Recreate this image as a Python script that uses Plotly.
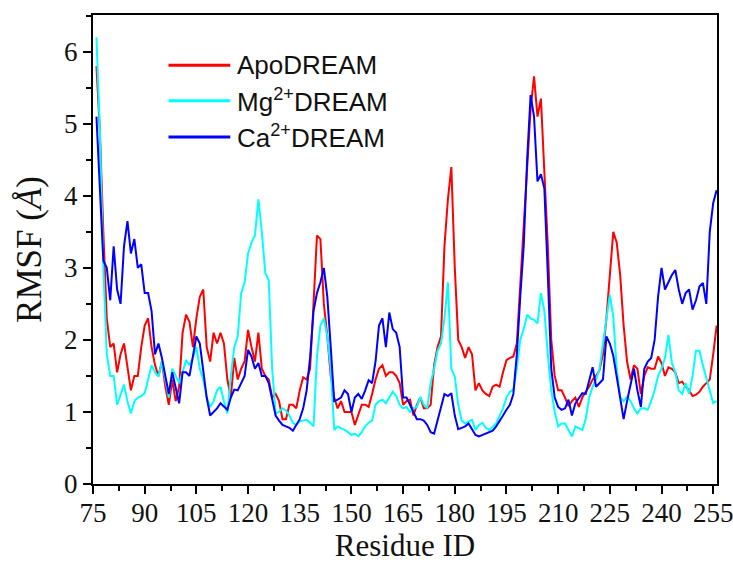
import plotly.graph_objects as go

# Residue numbers (76..256)
residues = list(range(76, 257))

# Per-residue RMSF (Å)
rmsf_apo = [
    5.8, 4.9, 3.5, 2.3, 1.9, 1.95, 1.55, 1.8, 1.95, 1.65,
    1.3, 1.5, 1.5, 1.9, 2.2, 2.3, 1.9, 1.65, 1.5, 1.7,
    1.35, 1.1, 1.45, 1.15, 1.35, 2.1, 2.35, 2.25, 1.9, 2.3,
    2.6, 2.7, 1.9, 1.7, 2.1, 1.95, 2.1, 1.95, 1.45, 1.2,
    1.75, 1.45, 1.6, 1.7, 2.14, 1.9, 1.7, 2.1, 1.6, 1.5,
    1.45, 1.2, 1.25, 1.15, 0.9, 0.9, 1.1, 1.1, 1.05, 1.3,
    1.48, 1.45, 1.6, 2.5, 3.45, 3.4, 2.5, 2.05, 1.5, 1.2,
    1.05, 1.15, 1.0, 1.0, 1.0, 0.82, 0.95, 1.1, 1.1, 1.07,
    1.25, 1.45, 1.6, 1.65, 1.5, 1.55, 1.55, 1.5, 1.4, 1.1,
    1.15, 1.17, 0.95, 1.1, 1.2, 1.05, 1.05, 1.1, 1.65, 1.9,
    2.05, 3.3, 3.95, 4.4, 3.0, 2.0, 1.9, 1.75, 1.9, 1.8,
    1.3, 1.4, 1.3, 1.25, 1.22, 1.35, 1.38, 1.35, 1.55, 1.72,
    1.75, 1.77, 1.95, 2.8, 3.6, 4.4, 5.2, 5.66, 5.1, 5.35,
    4.3, 3.3, 2.0, 1.5, 1.3, 1.3, 1.2, 1.08, 1.15, 1.2,
    1.07, 1.2, 1.28, 1.35, 1.45, 1.5, 1.58, 1.8, 2.3, 2.9,
    3.5, 3.35, 2.9, 2.2, 1.7, 1.45, 1.65, 1.6, 1.25, 1.5,
    1.62, 1.6, 1.6, 1.77, 1.68, 1.5, 1.62, 1.6, 1.55, 1.4,
    1.42, 1.35, 1.3, 1.22, 1.24, 1.28, 1.35, 1.4, 1.45, 1.8,
    2.2,
]

rmsf_mg = [
    6.2, 4.9, 3.0, 1.8, 1.5, 1.5, 1.1, 1.25, 1.38, 1.15,
    0.98, 1.15, 1.2, 1.22, 1.26, 1.45, 1.65, 1.55, 1.49, 1.7,
    1.45, 1.2, 1.6, 1.5, 1.4, 1.55, 1.72, 1.65, 1.75, 1.9,
    1.6, 1.45, 1.2, 1.07, 1.15, 1.3, 1.35, 1.15, 0.98, 1.5,
    1.9, 2.05, 2.65, 2.8, 3.2, 3.35, 3.45, 3.95, 3.5, 2.93,
    2.83, 1.6, 0.98, 1.0, 1.05, 1.02, 0.95, 0.85, 0.82, 0.87,
    0.88, 0.89, 0.85, 0.8, 1.77, 2.2, 2.3, 2.05, 1.6, 0.75,
    0.8, 0.78, 0.75, 0.72, 0.68, 0.7, 0.66, 0.72, 0.8, 0.85,
    0.88, 1.1, 1.15, 1.17, 1.12, 1.2, 1.28, 1.22, 1.1, 1.05,
    1.07, 1.0, 1.05, 1.07, 1.21, 1.1, 1.05, 1.4, 1.6, 1.85,
    1.95, 2.3, 2.8, 1.6, 1.49, 1.1, 0.88, 0.84, 0.87, 0.89,
    0.75, 0.82, 0.85, 0.78, 0.75, 0.8, 0.84, 0.95, 1.05, 1.2,
    1.28, 1.31, 1.6, 2.0, 2.15, 2.35, 2.3, 2.28, 2.23, 2.65,
    2.4, 1.8, 1.3, 1.0, 0.8, 0.84, 0.84, 0.75, 0.66, 0.8,
    0.78, 0.75, 0.9, 1.2, 1.35, 1.45, 1.6, 1.95, 2.35, 2.63,
    2.32, 1.6, 1.2, 1.15, 1.21, 1.15, 1.05, 0.98, 1.05, 1.05,
    1.03, 1.15, 1.3, 1.5, 1.6, 1.75, 2.07, 1.68, 1.55, 1.3,
    1.25, 1.4, 1.25, 1.5, 1.85, 1.85, 1.65, 1.48, 1.3, 1.12,
    1.15,
]

rmsf_ca = [
    5.1, 4.05, 3.1, 3.0, 2.55, 3.3, 2.7, 2.5, 3.3, 3.65,
    3.2, 3.4, 3.0, 3.05, 2.65, 2.65, 2.4, 1.8, 1.95, 1.75,
    1.5, 1.25, 1.55, 1.35, 1.12, 1.55, 1.55, 1.5, 1.75, 2.05,
    1.95, 1.6, 1.2, 0.95, 1.0, 1.05, 1.12, 1.08, 1.03, 1.2,
    1.31, 1.3, 1.4, 1.5, 1.86, 1.77, 1.6, 1.68, 1.5, 1.5,
    1.4, 1.15, 0.95, 0.88, 0.82, 0.8, 0.78, 0.74, 0.82, 0.9,
    1.05, 1.3, 1.75, 2.4, 2.65, 2.8, 3.0, 2.6, 1.9, 1.15,
    1.17, 1.2, 1.3, 1.25, 1.0, 1.2, 1.25, 1.18, 1.3, 1.44,
    1.4, 1.7, 2.2, 2.3, 1.9, 2.38, 2.15, 2.1, 1.9, 1.2,
    1.2, 1.1, 0.98, 0.9, 0.9, 0.88, 0.82, 0.72, 0.7, 0.88,
    1.1, 1.25, 1.22, 1.26, 0.95, 0.76, 0.78, 0.8, 0.84, 0.75,
    0.68, 0.66, 0.68, 0.7, 0.71, 0.74, 0.8, 0.87, 0.95, 1.03,
    1.1, 1.25, 1.8, 2.6, 3.3, 4.5, 5.4, 5.1, 4.2, 4.3,
    4.1, 2.9, 1.6, 1.2, 1.07, 1.03, 1.05, 1.17, 0.95, 1.12,
    1.2, 1.26, 1.25, 1.45, 1.62, 1.35, 1.4, 1.45, 2.05, 1.95,
    1.78, 1.5, 1.17, 0.9, 1.15, 1.4, 1.6, 1.3, 1.07, 1.6,
    1.7, 1.75, 2.0, 2.6, 3.0, 2.7, 2.8, 2.9, 2.97, 2.7,
    2.5, 2.65, 2.7, 2.42, 2.55, 2.74, 2.79, 2.5, 3.5, 3.9,
    4.08,
]

series_names = ["ApoDREAM", "Mg<sup>2+</sup>DREAM", "Ca<sup>2+</sup>DREAM"]
series_colors = ["#ff0000", "#00ffff", "#0000ff"]
series_values = [rmsf_apo, rmsf_mg, rmsf_ca]

x_ticks = list(range(75, 256, 15))
y_ticks = [0, 1, 2, 3, 4, 5, 6]

fig = go.Figure()
for name, color, vals in zip(series_names, series_colors, series_values):
    fig.add_trace(go.Scatter(
        x=residues, y=vals, mode="lines", name=name,
        line=dict(color=color, width=2),
        showlegend=False,
    ))

# Legend box: line samples and labels inside the plot area
legend_rows_y = [0.893, 0.817, 0.740]
for name, color, ly in zip(series_names, series_colors, legend_rows_y):
    fig.add_shape(type="line", xref="paper", yref="paper",
                  x0=0.121, x1=0.220, y0=ly, y1=ly,
                  line=dict(color=color, width=3))
    fig.add_annotation(xref="paper", yref="paper", x=0.227, y=ly,
                       text=name, showarrow=False, xanchor="left",
                       yanchor="middle",
                       font=dict(family="Liberation Sans, Arial", size=26,
                                 color="#111111"))

axis_common = dict(
    showline=True, linecolor="black", linewidth=2, mirror=True,
    ticks="outside", ticklen=8, tickwidth=2, tickcolor="black",
    showgrid=False, zeroline=False, automargin=False,
    ticklabeloverflow="allow",
    tickfont=dict(family="Liberation Serif, Times New Roman", size=27,
                  color="#111111"),
)

fig.update_xaxes(
    range=[75, 256.1], tickvals=x_ticks, ticklabelstandoff=-4,
    minor=dict(dtick=7.5, tick0=75, ticklen=5, tickwidth=2,
               tickcolor="black", ticks="outside"),
    title=dict(text="Residue ID", standoff=4,
               font=dict(family="Liberation Serif, Times New Roman",
                         size=31, color="#111111")),
    **axis_common,
)
fig.update_yaxes(
    range=[0, 6.51], tickvals=y_ticks,
    minor=dict(dtick=0.5, tick0=0, ticklen=5, tickwidth=2,
               tickcolor="black", ticks="outside"),
    title=dict(text="RMSF (<i>Å</i>)", standoff=12,
               font=dict(family="Liberation Serif, Times New Roman",
                         size=35, color="#111111")),
    **axis_common,
)

fig.update_layout(
    width=733, height=570,
    margin=dict(l=93, r=16, t=15, b=86, autoexpand=False),
    paper_bgcolor="white", plot_bgcolor="white",
)

fig.write_html("out.html")
